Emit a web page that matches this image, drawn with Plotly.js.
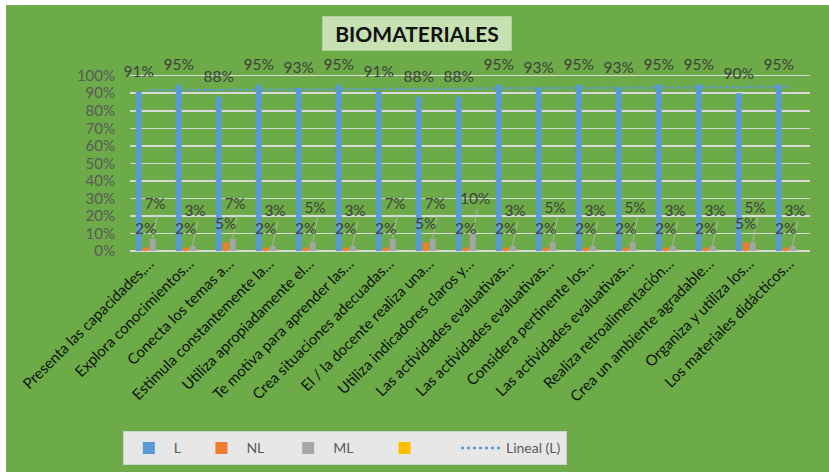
<!DOCTYPE html>
<html>
<head>
<meta charset="utf-8">
<script src="https://cdn.plot.ly/plotly-3.0.1.min.js"></script>
<style>
  html, body { margin: 0; padding: 0; background: #ffffff; width: 829px; height: 472px; overflow: hidden; }
  #chart { position: absolute; left: 6px; top: 5px; width: 823px; height: 467px; }
</style>
</head>
<body>
<div id="chart"></div>
<script>
const categories = [
  "Presenta las capacidades,…",
  "Explora conocimientos…",
  "Conecta los temas a…",
  "Estimula constantemente la…",
  "Utiliza apropiadamente el…",
  "Te motiva para aprender las…",
  "Crea situaciones adecuadas…",
  "El / la docente realiza una…",
  "Utiliza indicadores claros y…",
  "Las actividades evaluativas…",
  "Las actividades evaluativas…",
  "Considera pertinente los…",
  "Las actividades evaluativas…",
  "Realiza retroalimentación…",
  "Crea un ambiente agradable…",
  "Organiza y utiliza los…",
  "Los materiales didácticos…"
];
const seriesL  = [91, 95, 88, 95, 93, 95, 91, 88, 88, 95, 93, 95, 93, 95, 95, 90, 95];
const seriesNL = [2, 2, 5, 2, 2, 2, 2, 5, 2, 2, 2, 2, 2, 2, 2, 5, 2];
const seriesML = [7, 3, 7, 3, 5, 3, 7, 7, 10, 3, 5, 3, 5, 3, 3, 5, 3];
const series4  = [0, 0, 0, 0, 0, 0, 0, 0, 0, 0, 0, 0, 0, 0, 0, 0, 0];
const seriesNames = ["L", "NL", "ML", ""];
const yTicks = [0, 10, 20, 30, 40, 50, 60, 70, 80, 90, 100];
const chartTitle = "BIOMATERIALES";
const trendName = "Lineal (L)";

const idx = categories.map((_, i) => i);
const frac = a => a.map(v => v / 100);
const pct = a => a.map(v => v + "%");
const pad = k => "\u00a0".repeat(k);
const legendPad = [3, 4, 6, 6]; // spacing after legend entries (style)

// bar slot geometry (style)
const bargap = 0.3, nSeries = 4;
const slot = (1 - bargap) / nSeries;
const off = k => (k - (nSeries - 1) / 2) * slot;

// linear trendline of L (least squares)
const n = seriesL.length;
const mx = idx.reduce((a, b) => a + b, 0) / n;
const my = seriesL.reduce((a, b) => a + b, 0) / n;
let sxy = 0, sxx = 0;
idx.forEach((x, i) => { sxy += (x - mx) * (seriesL[i] - my); sxx += (x - mx) * (x - mx); });
const slope = sxy / sxx, icpt = my - slope * mx;
const trendX = [idx[0], idx[n - 1]];
const trendY = trendX.map(x => (icpt + slope * x) / 100);

const colors = ["#5b9bd5", "#ed7d31", "#a5a5a5", "#ffc000"];
const data = [];
[seriesL, seriesNL, seriesML, series4].forEach((s, k) => {
  data.push({
    type: "bar", x: idx, y: frac(s), name: seriesNames[k] + pad(legendPad[k]),
    marker: { color: colors[k] }, hoverinfo: "skip"
  });
});
data.push({
  type: "scatter", mode: "lines", x: trendX, y: trendY, name: trendName,
  line: { color: "#5b9bd5", width: 2.5, dash: "dot" }, hoverinfo: "skip"
});

const labelFont = { family: "Lato, 'Liberation Sans', sans-serif", size: 15.5, color: "#404040" };
const mlOffset = 0.19;
// leader lines for ML labels
const lx = [], ly = [];
idx.forEach((i, j) => {
  lx.push(i + off(2), i + off(2) + 0.12, null);
  ly.push(seriesML[j] / 100 + 0.005, seriesML[j] / 100 + mlOffset - 0.05, null);
});
data.push({ type: "scatter", mode: "lines", x: lx, y: ly, showlegend: false,
  line: { color: "#b5b5b5", width: 1 }, hoverinfo: "skip" });
data.push({ type: "scatter", mode: "text", x: idx.map(i => i + off(0)), y: seriesL.map(v => v / 100 + 0.105),
  text: pct(seriesL), textfont: labelFont, showlegend: false, cliponaxis: false, hoverinfo: "skip" });
data.push({ type: "scatter", mode: "text", x: idx.map(i => i + off(1)), y: seriesNL.map(v => v / 100 + 0.10),
  text: pct(seriesNL), textfont: labelFont, showlegend: false, cliponaxis: false, hoverinfo: "skip" });
data.push({ type: "scatter", mode: "text", x: idx.map(i => i + off(2) + 0.06), y: seriesML.map(v => v / 100 + mlOffset),
  text: pct(seriesML), textfont: labelFont, showlegend: false, cliponaxis: false, hoverinfo: "skip" });

const layout = {
  width: 823, height: 467,
  paper_bgcolor: "#6cab47", plot_bgcolor: "rgba(0,0,0,0)",
  margin: { l: 124, r: 19, t: 36, b: 221 },
  barmode: "group", bargap: bargap, bargroupgap: 0.15,
  showlegend: true,
  font: { family: "Lato, 'Liberation Sans', sans-serif" },
  xaxis: {
    type: "linear", range: [-0.48, 16.52],
    tickmode: "array", tickvals: idx, ticktext: categories,
    tickangle: -45, tickfont: { size: 15, color: "#111111" },
    showgrid: false, zeroline: false, showline: false, ticks: "", fixedrange: true
  },
  yaxis: {
    range: [0, 1.198], tickmode: "array", tickvals: frac(yTicks), ticktext: pct(yTicks),
    tickfont: { size: 15, color: "#595959" },
    gridcolor: "#d9d9d9", gridwidth: 1.5, zeroline: true, zerolinecolor: "#d9d9d9", zerolinewidth: 2,
    showline: false, ticks: "", ticklabelstandoff: 14, fixedrange: true
  },
  legend: {
    orientation: "h", xref: "container", yref: "container",
    x: 0.142, y: 0.087, xanchor: "left", yanchor: "top",
    bgcolor: "#e7e7e7", bordercolor: "#d0d0d0", borderwidth: 1,
    font: { size: 14, color: "#595959" }, itemwidth: 40, traceorder: "normal"
  },
  annotations: [{
    xref: "paper", yref: "paper", x: (411 - 124) / 680, y: (246 - 28.5) / 210,
    xanchor: "center", yanchor: "middle", showarrow: false,
    text: "<b>" + chartTitle + "</b>",
    width: 180, height: 25,
    font: { family: "Lato, 'Liberation Sans', sans-serif", size: 21, color: "#111111" },
    bgcolor: "#c7e1b3", bordercolor: "#b0d198", borderwidth: 1, borderpad: 4
  }]
};

Plotly.newPlot("chart", data, layout, { displayModeBar: false, staticPlot: true });
</script>
</body>
</html>
